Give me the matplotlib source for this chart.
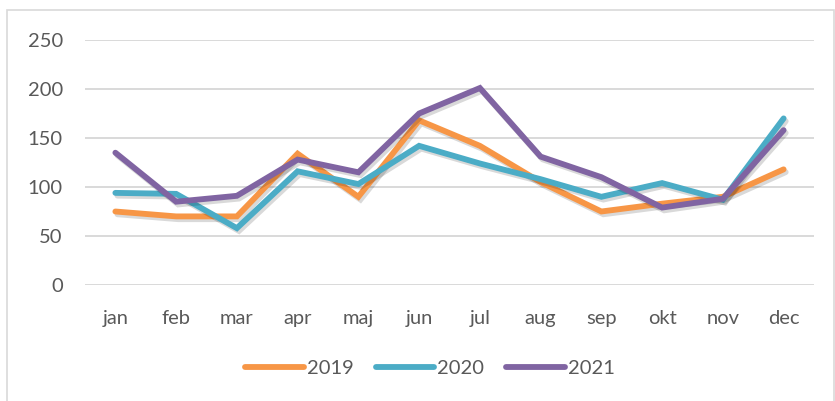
import matplotlib
matplotlib.use("Agg")
import matplotlib.pyplot as plt
import matplotlib.patheffects as pe
from matplotlib.patches import Rectangle

months = ["jan", "feb", "mar", "apr", "maj", "jun", "jul", "aug", "sep", "okt", "nov", "dec"]
s2019 = [75, 70, 70, 134, 90, 168, 142, 105, 75, 83, 90, 118]
s2020 = [94, 93, 58, 116, 103, 142, 124, 108, 90, 104, 87, 170]
s2021 = [135, 85, 91, 128, 115, 175, 201, 131, 110, 79, 88, 158]
series = [("2019", s2019, "#F79646"), ("2020", s2020, "#4BACC6"), ("2021", s2021, "#8064A2")]
yticks = [0, 50, 100, 150, 200, 250]

plt.rcParams['font.family'] = ['Lato', 'DejaVu Sans']
txt = "#595959"

fig = plt.figure(figsize=(8.35, 4.01), dpi=100)
fig.patches.append(Rectangle((7/835, -0.05), 0.99, 1 - 10/401 + 0.05, transform=fig.transFigure,
                             fill=False, edgecolor="#D9D9D9", linewidth=1.2))
ax = fig.add_axes([85/835, 1-285/401, 729/835, 245/401])
x = list(range(len(months)))
shadow = [pe.SimpleLineShadow(offset=(1.5, -2), shadow_color="#000000", alpha=0.15), pe.Normal()]
for name, vals, col in series:
    ax.plot(x, vals, color=col, linewidth=4.2, solid_capstyle="round", solid_joinstyle="miter",
            label=name, clip_on=False, path_effects=shadow, zorder=3)

ax.set_xlim(-0.5, 11.5)
ax.set_ylim(0, 250)
ax.set_yticks(yticks)
ax.set_xticks(x)
ax.set_xticklabels(months)
ax.grid(axis="y", color="#D9D9D9", linewidth=1.4)
ax.set_axisbelow(True)
for s in ax.spines.values():
    s.set_visible(False)
ax.tick_params(axis="both", length=0, labelsize=14.5, colors=txt)
ax.tick_params(axis="y", pad=16)
ax.tick_params(axis="x", pad=18)

leg = fig.legend(loc="center", bbox_to_anchor=(430/835, 1-368/401), ncol=3, frameon=False,
                 fontsize=14.5, handlelength=2.9, handletextpad=0.15, columnspacing=1.1)
for t in leg.get_texts():
    t.set_color(txt)
for h in leg.get_lines():
    h.set_linewidth(4.2)
    h.set_path_effects([])

fig.savefig("out.png", dpi=100)
